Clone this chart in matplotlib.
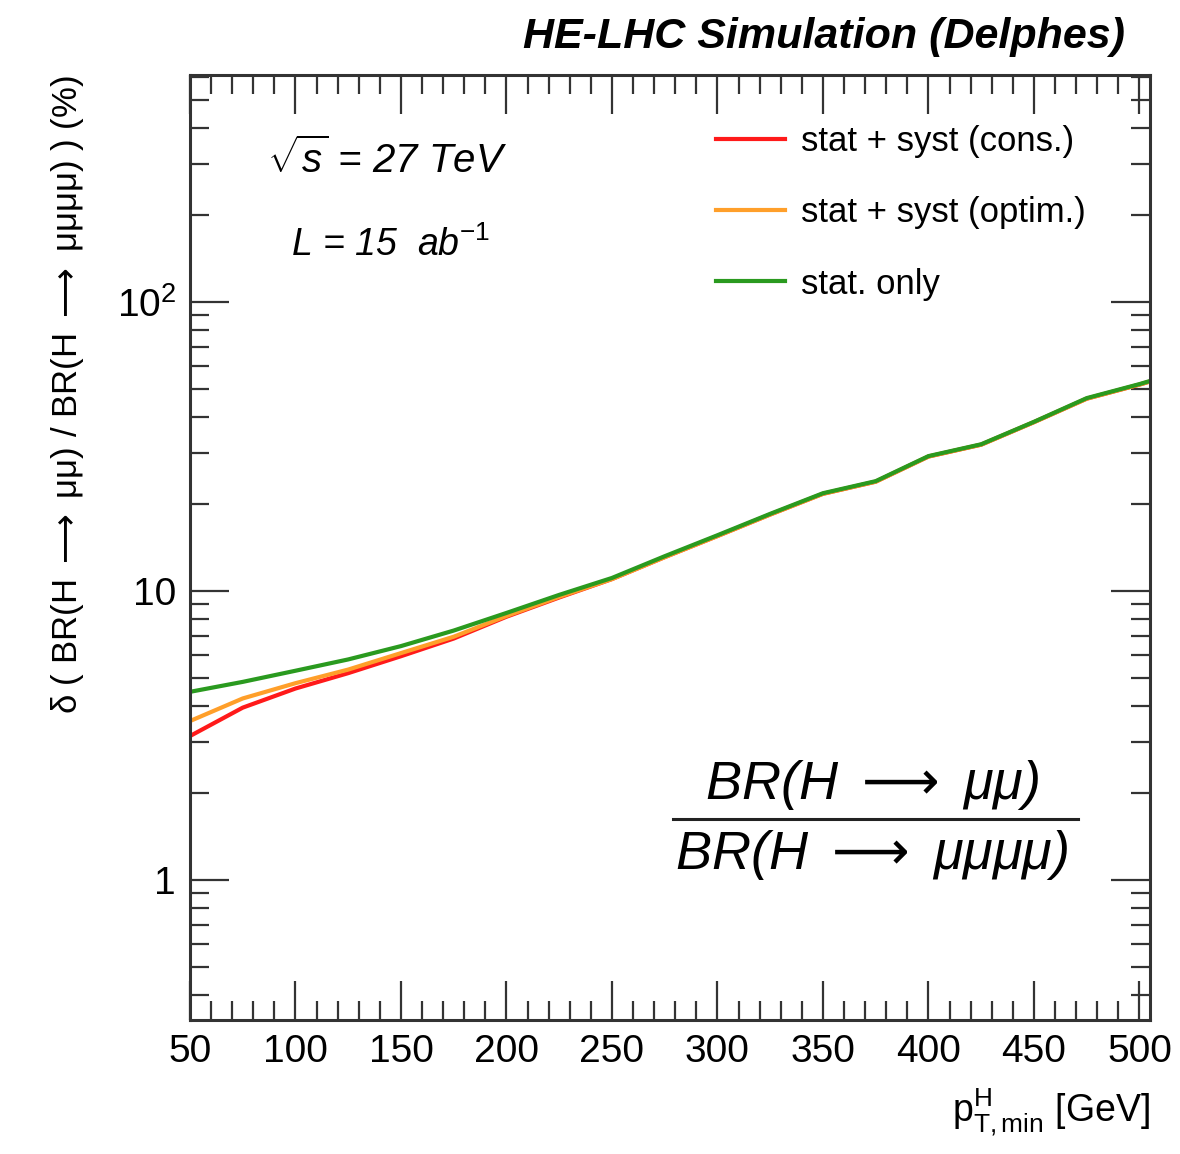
import numpy as np
import matplotlib
matplotlib.use('Agg')
import matplotlib.pyplot as plt
from matplotlib.ticker import MultipleLocator, LogLocator, FixedLocator, FixedFormatter, NullFormatter

plt.rcParams['font.family'] = ['Liberation Sans', 'DejaVu Sans']
plt.rcParams['mathtext.fontset'] = 'custom'
plt.rcParams['mathtext.rm'] = 'Liberation Sans'
plt.rcParams['mathtext.it'] = 'Liberation Sans:italic'
plt.rcParams['mathtext.sf'] = 'DejaVu Sans'

# pT,min values (GeV) and relative precision (%)
pt_min = [50, 75, 100, 125, 150, 175, 200, 225, 250, 275, 300, 325, 350, 375, 400, 425, 450, 475, 500, 505]
stat_only = [4.48, 4.85, 5.30, 5.80, 6.45, 7.30, 8.40, 9.70, 11.1, 13.2, 15.6, 18.5, 21.8, 24.0, 29.3, 32.2, 38.5, 46.5, 52.0, 53.3]
syst_cons = [3.15, 3.95, 4.60, 5.20, 5.95, 6.85, 8.15, 9.50, 11.0, 13.1, 15.5, 18.4, 21.7, 23.9, 29.2, 32.1, 38.4, 46.3, 51.8, 53.1]
syst_optim = [3.55, 4.25, 4.80, 5.35, 6.10, 6.95, 8.20, 9.55, 11.0, 13.1, 15.5, 18.4, 21.7, 23.9, 29.2, 32.1, 38.4, 46.3, 51.8, 53.1]

labels = ['stat + syst (cons.)', 'stat + syst (optim.)', 'stat. only']
colors = ['#ff1a1a', '#ff9f2a', '#2a9a1f']

ARROW = r'$\mathsf{\longrightarrow}$'

fig = plt.figure(figsize=(11.8, 11.54), dpi=100)
ax = fig.add_axes([0.161, 0.1161, 0.8136, 0.8189])

ax.plot(pt_min, syst_cons, color=colors[0], lw=3, label=labels[0])
ax.plot(pt_min, syst_optim, color=colors[1], lw=3, label=labels[1])
ax.plot(pt_min, stat_only, color=colors[2], lw=3, label=labels[2])

ax.set_yscale('log')
ax.set_xlim(50, 505)
ax.set_ylim(0.328, 610)

ax.xaxis.set_major_locator(MultipleLocator(50))
ax.xaxis.set_minor_locator(MultipleLocator(10))
ax.yaxis.set_major_locator(FixedLocator([1, 10, 100]))
ax.yaxis.set_major_formatter(FixedFormatter(['1', '10', r'$\mathregular{10^{2}}$']))
ax.yaxis.set_minor_locator(LogLocator(base=10, subs=np.arange(2, 10)))
ax.yaxis.set_minor_formatter(NullFormatter())

ax.tick_params(which='both', direction='in', top=True, right=True, colors='#333333', labelcolor='black')
ax.tick_params(which='major', length=28, width=1.6, labelsize=28, pad=10)
ax.tick_params(which='minor', length=14, width=1.6)
for s in ax.spines.values():
    s.set_linewidth(2.2)
    s.set_color('#333333')

ax.set_ylabel('δ ( BR(H ' + ARROW + ' μμ) / BR(H ' + ARROW + ' μμμμ) ) (%)',
              fontsize=25, loc='top', labelpad=22)
ax.set_xlabel(r'$\mathregular{p_{T,min}^{H}}$ [GeV]', fontsize=27, loc='right', labelpad=12)

leg = ax.legend(loc='upper left', bbox_to_anchor=(0.515, 0.98), frameon=False, fontsize=25,
                handlelength=2.0, handletextpad=0.45, labelspacing=1.1)

fig.text(0.953, 0.968, 'HE-LHC Simulation (Delphes)', fontsize=31, fontweight='bold',
         fontstyle='italic', ha='right', va='center')

ax.text(0.08, 0.91, r'$\sqrt{s}$ = 27 TeV', transform=ax.transAxes, fontsize=29,
        fontstyle='italic', va='center')
ax.text(0.105, 0.82, r'L = 15  ab$^{-1}$', transform=ax.transAxes, fontsize=27,
        fontstyle='italic', va='center')

ax.text(0.71, 0.249, 'BR(H ' + ARROW + ' μμ)', transform=ax.transAxes, fontsize=39,
        fontstyle='italic', ha='center', va='center')
ax.text(0.71, 0.175, 'BR(H ' + ARROW + ' μμμμ)', transform=ax.transAxes, fontsize=39,
        fontstyle='italic', ha='center', va='center')
ax.plot([0.503, 0.925], [0.213, 0.213], transform=ax.transAxes, color='#222222', lw=2.2)

fig.savefig('out.png', dpi=100)
